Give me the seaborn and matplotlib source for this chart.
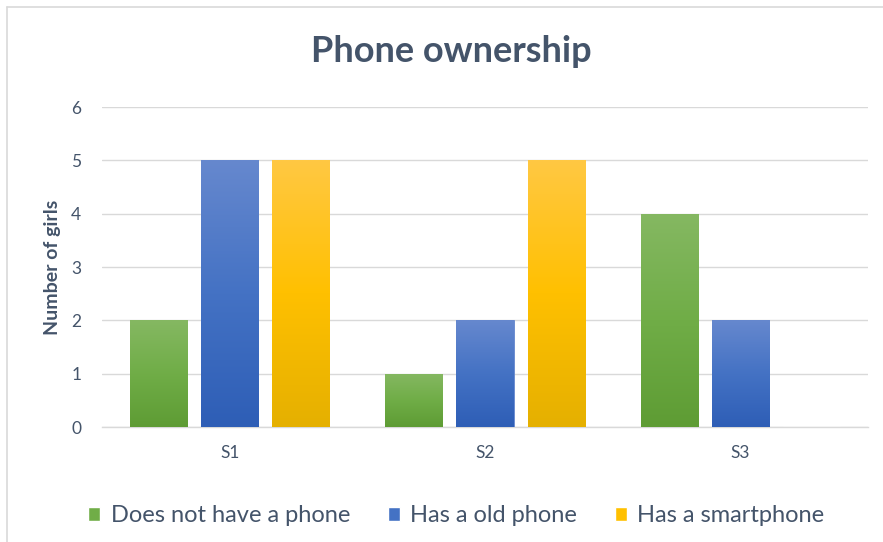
import numpy as np
import pandas as pd
import matplotlib
matplotlib.use("Agg")
import matplotlib.pyplot as plt
import seaborn as sns
from matplotlib.colors import LinearSegmentedColormap
from matplotlib.lines import Line2D

categories = ["S1", "S2", "S3"]
series_names = ["Does not have a phone", "Has a old phone", "Has a smartphone"]
no_phone = [2, 1, 4]
old_phone = [5, 2, 2]
smartphone = [5, 5, 0]
yticks = [0, 1, 2, 3, 4, 5, 6]

base_colors = ["#70AD47", "#4472C4", "#FFC000"]
grad = {
    "#70AD47": ("#85B862", "#70AD47", "#5E9C34"),
    "#4472C4": ("#6688CE", "#4472C4", "#2E5EB6"),
    "#FFC000": ("#FFC843", "#FFC000", "#E5B000"),
}
text_color = "#44546A"

df = pd.DataFrame({
    "cat": categories * 3,
    "series": [s for s in series_names for _ in categories],
    "value": no_phone + old_phone + smartphone,
})

sns.set_theme(style="white")
plt.rcParams["font.family"] = ["Lato", "DejaVu Sans"]

fig = plt.figure(figsize=(8.83, 5.42), dpi=100)
ax = fig.add_axes([102 / 883, 1 - 427 / 542, 766 / 883, 320 / 542])

sns.barplot(data=df, x="cat", y="value", hue="series", hue_order=series_names,
            palette=base_colors, width=0.835, gap=0.197, ax=ax, legend=True,
            saturation=1, errorbar=None, zorder=3)

# gradient fill for each bar
for patch in ax.patches:
    h = patch.get_height()
    if h <= 0:
        continue
    fc = matplotlib.colors.to_hex(patch.get_facecolor())
    key = None
    for k in grad:
        if k.lower() == fc.lower():
            key = k
    if key is None:
        continue
    top, mid, bot = grad[key]
    cmap = LinearSegmentedColormap.from_list("g", [bot, mid, top])
    x0 = patch.get_x()
    w = patch.get_width()
    img = np.linspace(0, 1, 256).reshape(-1, 1)
    im = ax.imshow(img, cmap=cmap, origin="lower", aspect="auto",
                   extent=[x0, x0 + w, 0, h], zorder=3.5)
    im.set_clip_path(patch)
    patch.set_edgecolor(top)
    patch.set_linewidth(0.6)

ax.set_xlim(-0.5, 2.5)
ax.set_ylim(0, 6)
ax.set_yticks(yticks)
ax.set_yticklabels([str(t) for t in yticks])
ax.yaxis.grid(True, color="#D9D9D9", linewidth=1.0, zorder=0)
ax.set_axisbelow(True)
for s in ["top", "right", "left"]:
    ax.spines[s].set_visible(False)
ax.spines["bottom"].set_color("#D9D9D9")
ax.spines["bottom"].set_linewidth(1.0)
ax.tick_params(axis="y", length=0, labelsize=12.5, colors=text_color, pad=15)
ax.tick_params(axis="x", length=0, labelsize=12.5, colors=text_color, pad=13)
ax.set_xlabel("")
ax.set_ylabel("Number of girls", fontsize=14, fontweight="bold", color=text_color, labelpad=7)

# legend
handles, labels = ax.get_legend_handles_labels()
ax.legend_.remove()
leg = fig.legend(handles, labels, loc="center", bbox_to_anchor=(0.517, 1 - 516 / 542),
                 ncol=3, frameon=False, fontsize=17, handlelength=0.5, handleheight=0.5,
                 columnspacing=1.6, handletextpad=0.45)
for t in leg.get_texts():
    t.set_color(text_color)

fig.text(0.511, 1 - 52 / 542, "Phone ownership", ha="center", va="center",
         fontsize=26, fontweight="bold", color=text_color)

# chart frame (left and top edges visible)
fig.add_artist(Line2D([7 / 883, 7 / 883], [0, 1 - 7 / 542], transform=fig.transFigure,
                      color="#D9D9D9", linewidth=1.2))
fig.add_artist(Line2D([7 / 883, 1], [1 - 7 / 542, 1 - 7 / 542], transform=fig.transFigure,
                      color="#D9D9D9", linewidth=1.2))

fig.savefig("out.png", dpi=100)
